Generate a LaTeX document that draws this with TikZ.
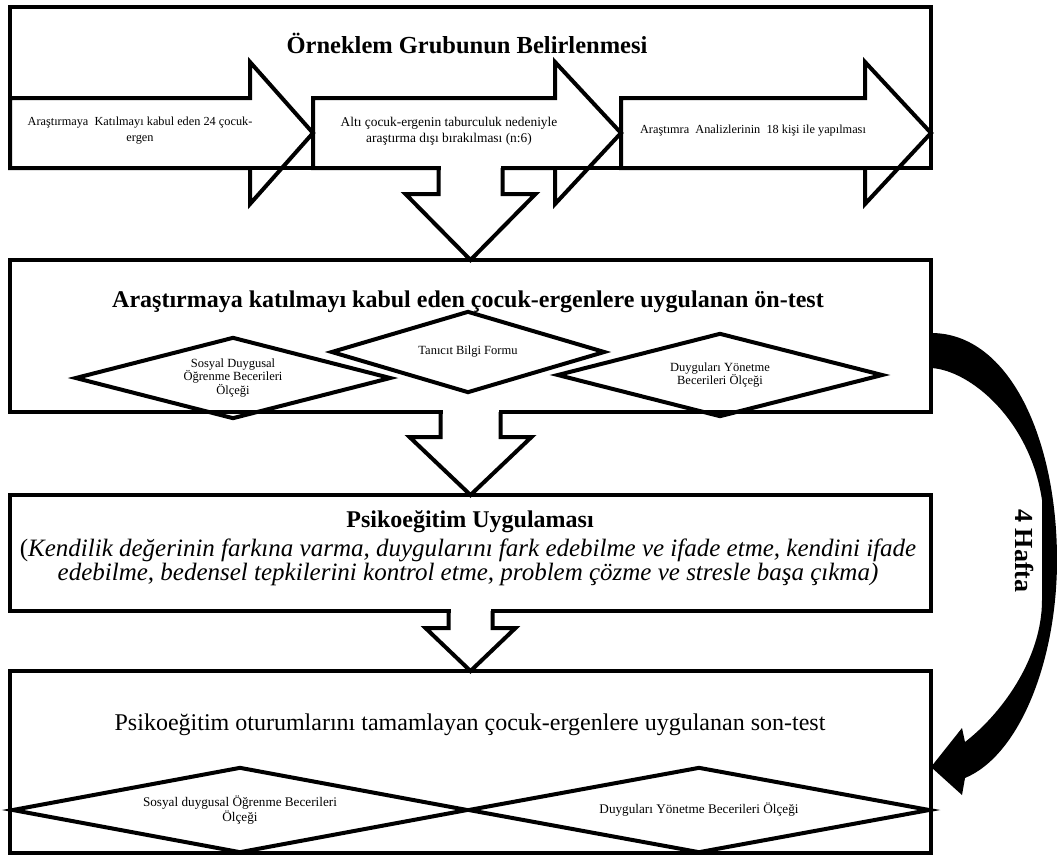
\documentclass[tikz,border=0pt]{standalone}
\usepackage{fontspec}
\setmainfont{Liberation Serif}
\usetikzlibrary{shapes.geometric,calc}
\newcommand{\sagok}[3]{\draw[blok] (#1,98) -- (#2,98) -- (#2,62) -- (#3,133) -- (#2,204) -- (#2,168) -- (#1,168) -- cycle;}
\newcommand{\asagiok}[5]{%
    \fill[white] ($(#1.south)+(-#3+2,-3)$) rectangle ($(#1.south)+(#3-2,#5)$);
    \draw[blok] ($(#1.south)+(-#3,0)$) -- ++(0,#5) -- ($(#1.south)+(-#4,#5)$) -- (#2.north)
        -- ($(#1.south)+(#4,#5)$) -- ($(#1.south)+(#3,#5)$) -- ($(#1.south)+(#3,0)$);}

\begin{document}
\begin{tikzpicture}
    [x=1pt, y=-1pt, inner sep=0pt,
    kutu/.style={draw, line width=4.5pt, outer sep=0pt},
    blok/.style={draw, line width=4pt, line join=miter},
    karo/.style={diamond, draw, line width=4pt, shape aspect=4, align=center,
        font=\fontsize{12.5}{12.5}\selectfont},
    baslik/.style={font=\bfseries\fontsize{24}{28}\selectfont},
    oktext/.style={align=center, font=\fontsize{12.3}{16}\selectfont}]

\useasboundingbox (0,0) rectangle (1057,857);
\node[kutu, minimum width=921, minimum height=161] (kutu1) at (470.5,87.5) {};
\node[kutu, minimum width=921, minimum height=152] (kutu2) at (470.5,336) {};
\node[kutu, minimum width=921, minimum height=116] (kutu3) at (470.5,553) {};
\node[kutu, minimum width=921, minimum height=182] (kutu4) at (470.5,762) {};

\sagok{10}{250}{313}
\sagok{313}{555}{621}
\sagok{621}{865}{931}
\node[baslik, font=\bfseries\fontsize{24.5}{28}\selectfont] (orneklem) at (467,43) {Örneklem Grubunun Belirlenmesi};
\node[oktext] (katilim) at (140,131) {Araştırmaya~ Katılmayı kabul eden 24 çocuk-\\ergen};
\node[oktext, font=\fontsize{13.4}{16}\selectfont] (taburcu) at (449,131) {Altı çocuk-ergenin taburculuk nedeniyle\\araştırma dışı bırakılması (n:6)};
\node[oktext] (analiz) at (753,131) {Araştımra~ Analizlerinin~ 18 kişi ile yapılması};

\node[baslik] (ontest) at (468,302) {Araştırmaya katılmayı kabul eden çocuk-ergenlere uygulanan ön-test};
\node[karo, minimum width=316, minimum height=82] (sdob) at (233,378) {Sosyal Duygusal\\Öğrenme Becerileri\\Ölçeği};
\node[karo, minimum width=274, minimum height=82] (tanitici) at (468,352) {Tanıcıt Bilgi Formu};
\node[karo, minimum width=326, minimum height=84] (dybo) at (720,375) {Duyguları Yönetme\\Becerileri Ölçeği};

\node[baslik] (psiko) at (470,522) {Psikoeğitim Uygulaması};
\node[align=center, font=\itshape\fontsize{25}{24}\selectfont] (konular) at (468,562)
    {{\upshape(}Kendilik değerinin farkına varma, duygularını fark edebilme ve ifade etme, kendini ifade\\edebilme, bedensel tepkilerini kontrol etme, problem çözme ve stresle başa çıkma)};

\node[font=\fontsize{24}{28}\selectfont] (sontest) at (470,725) {Psikoeğitim oturumlarını tamamlayan çocuk-ergenlere uygulanan son-test};
\node[karo, minimum width=456, minimum height=86, font=\fontsize{13.2}{13}\selectfont] (sdob2) at (240,810) {Sosyal duygusal Öğrenme Becerileri\\Ölçeği};
\node[karo, minimum width=462, minimum height=86, font=\fontsize{13.2}{13}\selectfont] (dybo2) at (699,810) {Duyguları Yönetme Becerileri Ölçeği};

\asagiok{kutu1}{kutu2}{32}{65}{26}
\asagiok{kutu2}{kutu3}{30}{61}{25}
\asagiok{kutu3}{kutu4}{22}{45}{17}

\coordinate (kivrimbas) at ($(kutu2.east)+(0,-3)$);
\coordinate (kivrimuc) at ($(kutu4.east)+(0,5)$);
\fill (kivrimbas) .. controls (1010,333) and (1057,440) .. (1057,560)
    .. controls (1057,660) and (1020,755) .. (965,778) -- (962,795) -- (kivrimuc) -- (962,728) -- (965,742)
    .. controls (1000,715) and (1042,660) .. (1042,600) -- (1042,500)
    .. controls (1030,420) and (970,370) .. (931,368) -- cycle;
\node[font=\bfseries\fontsize{26}{26}\selectfont, rotate=-90] (hafta) at (1025,551) {4 Hafta};
\end{tikzpicture}
\end{document}
